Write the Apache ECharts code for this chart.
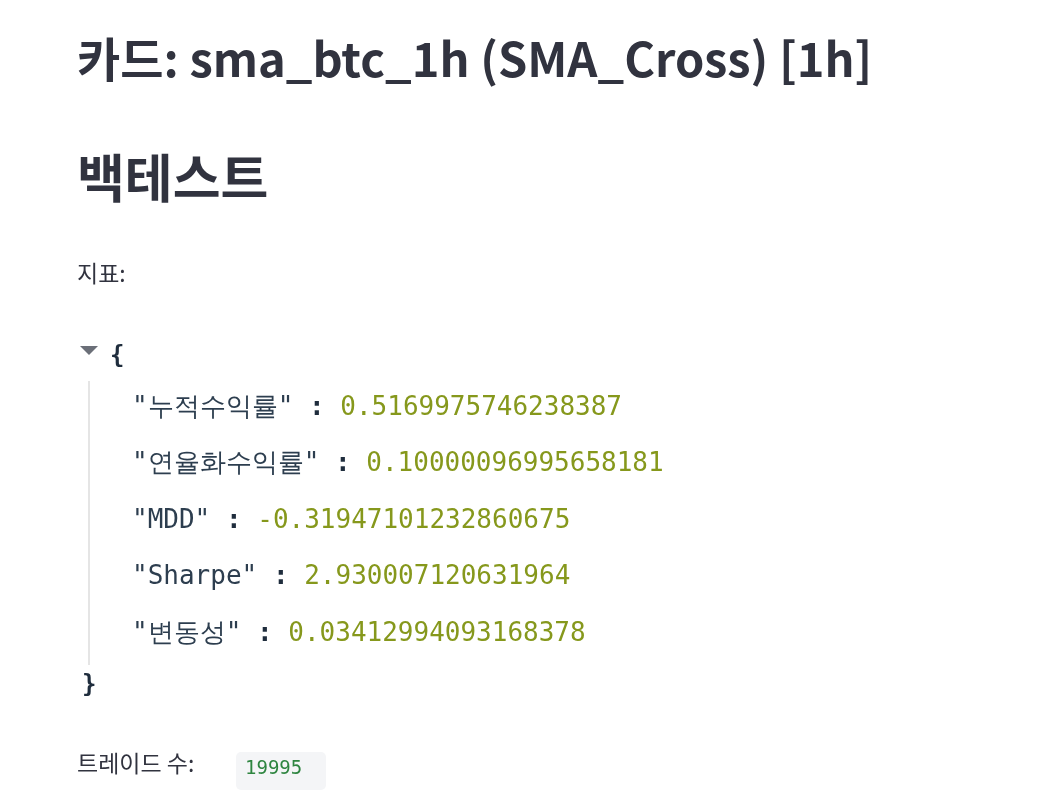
<!DOCTYPE html>
<html>
<head>
<meta charset="utf-8">
<script src="https://cdn.jsdelivr.net/npm/echarts@6/dist/echarts.min.js"></script>
<style>html,body{margin:0;padding:0;background:#fff;}#main{width:1044px;height:806px;}</style>
</head>
<body>
<div id="main"></div>
<script>
var titleText = '카드: sma_btc_1h (SMA_Cross) [1h]';
var sectionText = '백테스트';
var metricLabel = '지표:';
var metricKeys = ['누적수익률', '연율화수익률', 'MDD', 'Sharpe', '변동성'];
var metricValues = ['0.5169975746238387', '0.10000096995658181', '-0.31947101232860675', '2.930007120631964', '0.03412994093168378'];
var tradeLabel = '트레이드 수:';
var tradeCount = '19995';

var sans = 'Noto Sans CJK KR';
var mono = 'DejaVu Sans Mono';
var dark = '#31333F';

function txt(x, y, s, size, weight, family, color){
	return {type: 'text', left: x, top: y, style: {text: s, fontSize: size, fontWeight: weight, fontFamily: family, fill: color}};
}

var elements = [
	txt(77, 36, titleText, 47, 'bold', sans, dark),
	txt(77, 152, sectionText, 52, 'bold', sans, dark),
	txt(77, 262, metricLabel, 23, 'normal', sans, dark),
	{type: 'polygon', shape: {points: [[80, 346], [98, 346], [89, 355]]}, style: {fill: '#6b6f78'}},
	txt(110, 345, '{', 24, 'bold', mono, '#1f2d3d'),
	{type: 'line', shape: {x1: 89, y1: 381, x2: 89, y2: 665}, style: {stroke: '#dddddd', lineWidth: 1.5}},
	txt(82, 674, '}', 24, 'bold', mono, '#1f2d3d'),
	txt(77, 752, tradeLabel, 23, 'normal', sans, dark),
	{type: 'rect', shape: {x: 236, y: 752, width: 90, height: 38, r: 5}, style: {fill: '#f4f5f7'}},
	txt(245, 760, tradeCount, 19, 'normal', mono, '#2e8540')
];

metricKeys.forEach(function(k, i){
	elements.push({
		type: 'text', left: 132, top: 395 + i * 56.5,
		style: {
			text: '{k|"' + k + '"\u00a0}{c|:}{v|\u00a0' + metricValues[i] + '}',
			rich: {
				k: {fontSize: 26, fontFamily: mono, fill: '#2d3e4f'},
				c: {fontSize: 26, fontFamily: mono, fontWeight: 'bold', fill: '#1f2d3d'},
				v: {fontSize: 26, fontFamily: mono, fill: '#86981c'}
			}
		}
	});
});

var myChart = echarts.init(document.getElementById('main'));
myChart.setOption({graphic: elements});
</script>
</body>
</html>
